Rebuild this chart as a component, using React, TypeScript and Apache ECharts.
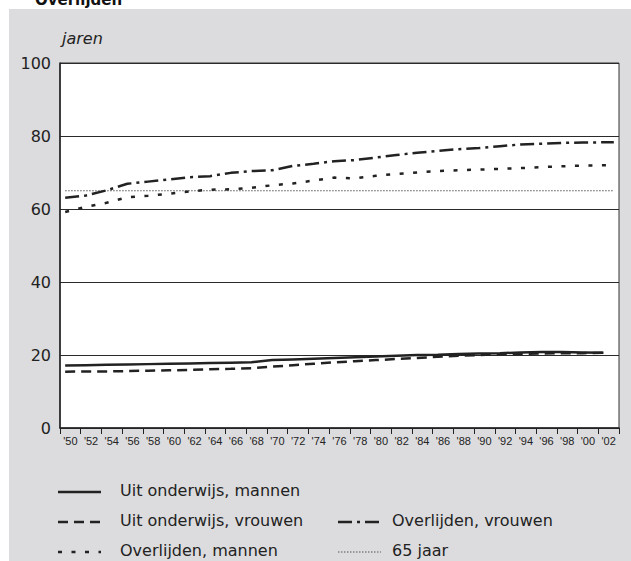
import React, { useEffect, useRef } from "react";
import * as echarts from "echarts";

const xLabels = ["'50","'52","'54","'56","'58","'60","'62","'64","'66","'68","'70","'72","'74","'76","'78","'80","'82","'84","'86","'88","'90","'92","'94","'96","'98","'00","'02"];
const yTicks = [0, 20, 40, 60, 80, 100];

const onderwijsYears = [1950,1952,1954,1956,1958,1960,1962,1964,1966,1968,1970,1972,1974,1976,1978,1980,1982,1984,1986,1988,1990,1992,1994,1996,1998,2000,2002];
const overlijdenYears = [1950,1952,1954,1956,1958,1960,1962,1964,1966,1968,1970,1972,1974,1976,1978,1980,1982,1984,1986,1988,1990,1992,1994,1996,1998,2000,2003];

const onderwijsMannen = [17.1,17.2,17.3,17.4,17.5,17.6,17.7,17.8,17.9,18.0,18.6,18.8,19.0,19.2,19.4,19.6,19.8,20.0,20.1,20.3,20.4,20.5,20.7,20.8,20.8,20.7,20.6];
const onderwijsVrouwen = [15.4,15.5,15.5,15.6,15.7,15.8,15.9,16.1,16.2,16.4,16.8,17.2,17.6,18.0,18.3,18.6,18.9,19.2,19.5,19.8,20.0,20.2,20.3,20.4,20.5,20.5,20.6];
const overlijdenVrouwen = [63.1,63.7,65.1,66.9,67.5,68.1,68.7,69.0,69.9,70.4,70.6,71.8,72.4,73.1,73.4,74.1,74.8,75.4,75.9,76.4,76.7,77.2,77.7,77.9,78.1,78.2,78.3];
const overlijdenMannen = [59.2,60.6,61.7,63.2,63.6,64.2,64.8,65.3,65.4,65.8,66.5,67.0,67.8,68.6,68.4,69.1,69.6,70.0,70.4,70.6,70.8,71.0,71.2,71.5,71.7,71.9,72.0];
const pensioenAge = 65;
const pensioenYears = [1950, 2003];

const seriesNames = ["Uit onderwijs, mannen", "Uit onderwijs, vrouwen", "Overlijden, vrouwen", "Overlijden, mannen", "65 jaar"];
const title = "Overlijden";
const unitLabel = "jaren";

const FONT = "'DejaVu Sans', Verdana, sans-serif";
const SMALL_FONT = "'Liberation Sans', Arial, sans-serif";
const INK = "#222222";

const toX = (year: number) => year - 1949.5;
const pairs = (years: number[], vals: number[]) => years.map((y, i) => [toX(y), vals[i]]);

const styles: any[] = [
  { type: "solid", width: 2.5, color: INK },
  { type: [10, 6], width: 2.5, color: INK },
  { type: [14, 5, 3, 5], width: 2.5, color: INK },
  { type: [4, 9.5], width: 2.5, color: INK },
  { type: [1.5, 1.5], width: 1, color: "#555555" },
];

export default function App() {
  const ref = useRef<HTMLDivElement>(null);
  useEffect(() => {
    if (!ref.current) return;
    const chart = echarts.init(ref.current, undefined, { renderer: "svg" });

    const legendItems = [
      { idx: 0, lx: 58, ty: 490, tx: 120 },
      { idx: 1, lx: 58, ty: 520, tx: 120 },
      { idx: 2, lx: 338, ty: 520, tx: 392 },
      { idx: 3, lx: 58, ty: 550, tx: 120 },
      { idx: 4, lx: 338, ty: 550, tx: 392 },
    ];
    const legendGraphics: any[] = [];
    legendItems.forEach((it) => {
      const s = styles[it.idx];
      legendGraphics.push({
        type: "line",
        z: 100,
        shape: { x1: it.lx, y1: it.ty + 2, x2: it.lx + 43, y2: it.ty + 2 },
        style: { stroke: s.color, lineWidth: s.width, lineDash: s.type === "solid" ? null : s.type },
      });
      legendGraphics.push({
        type: "text",
        z: 100,
        x: it.tx,
        y: it.ty,
        style: { text: seriesNames[it.idx], font: `16px ${FONT}`, fill: INK, textVerticalAlign: "middle" },
      });
    });

    const mk = (name: string, data: number[][], s: any) => ({
      name,
      type: "line",
      xAxisIndex: 1,
      data,
      symbol: "none",
      lineStyle: { type: s.type, width: s.width, color: s.color, cap: "butt" },
      silent: true,
    });

    chart.setOption({
      animation: false,
      backgroundColor: "#dcdcde",
      grid: {
        left: 60,
        right: 12,
        top: 63,
        bottom: 133,
        show: true,
        backgroundColor: "#ffffff",
        borderColor: "#333333",
        borderWidth: 1,
      },
      xAxis: [
        {
          type: "category",
          data: xLabels,
          boundaryGap: true,
          axisLine: { show: true, lineStyle: { color: INK, width: 1.5 } },
          axisTick: { show: true, length: 6, lineStyle: { color: INK, width: 1 } },
          axisLabel: { interval: 0, fontSize: 11, color: INK, fontFamily: SMALL_FONT, margin: 7 },
          splitLine: { show: false },
        },
        {
          type: "value",
          min: 0,
          max: 54,
          show: false,
        },
      ],
      yAxis: {
        type: "value",
        min: yTicks[0],
        max: yTicks[yTicks.length - 1],
        interval: 20,
        axisLine: { show: true, lineStyle: { color: INK, width: 1.5 } },
        axisTick: { show: false },
        axisLabel: { fontSize: 16, color: INK, fontFamily: FONT, margin: 9 },
        splitLine: { show: true, lineStyle: { color: "#2a2a2a", width: 1 } },
      },
      graphic: [
        { type: "rect", z: 50, shape: { x: 0, y: 0, width: 9, height: 561 }, style: { fill: "#ffffff" } },
        { type: "rect", z: 50, shape: { x: 0, y: 0, width: 631, height: 9 }, style: { fill: "#ffffff" } },
        { type: "text", z: 100, x: 35, y: 7, style: { text: title, font: `bold 15px ${FONT}`, fill: "#111", textVerticalAlign: "bottom" } },
        { type: "text", z: 100, x: 62, y: 38, style: { text: unitLabel, font: `italic 16px ${FONT}`, fill: INK, textVerticalAlign: "middle" } },
        ...legendGraphics,
      ],
      series: [
        mk(seriesNames[4], pensioenYears.map((y) => [toX(y), pensioenAge]), styles[4]),
        mk(seriesNames[0], pairs(onderwijsYears, onderwijsMannen), styles[0]),
        mk(seriesNames[1], pairs(onderwijsYears, onderwijsVrouwen), styles[1]),
        mk(seriesNames[2], pairs(overlijdenYears, overlijdenVrouwen), styles[2]),
        mk(seriesNames[3], pairs(overlijdenYears, overlijdenMannen), styles[3]),
      ],
    });
    return () => chart.dispose();
  }, []);
  return <div ref={ref} style={{ position: "absolute", left: 0, top: 0, width: 631, height: 561 }} />;
}
